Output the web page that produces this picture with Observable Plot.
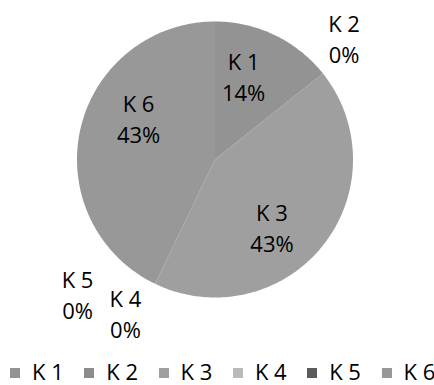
<!DOCTYPE html>
<html>
<head>
<meta charset="utf-8">
<script src="https://cdn.jsdelivr.net/npm/d3@7"></script>
<script src="https://cdn.jsdelivr.net/npm/@observablehq/plot@0.6"></script>
<style>
  body { margin: 0; background: #fff; font-family: "Open Sans", sans-serif; }
  #wrap { position: relative; width: 434px; height: 385px; overflow: hidden; }
  #chart { position: absolute; left: 0; top: 0; }
  .sw { position: absolute; width: 10px; height: 10px; top: 368px; }
  .lt { position: absolute; top: 359.5px; font-size: 22px; line-height: 22px; color: #000; white-space: pre; }
</style>
</head>
<body>
<div id="wrap"><div id="chart"></div><div id="legend"></div></div>
<script>
const categories = ["K 1", "K 2", "K 3", "K 4", "K 5", "K 6"];
const values = [1, 0, 3, 0, 0, 3];
const sliceColors = ["#939393", "#8c8c8c", "#9f9f9f", "#bababa", "#5c5c5c", "#989898"];
// label anchors in pie-radius units (layout only)
const labelPos = [[0.207, 0.609], [0.935, 0.880], [0.413, -0.486], [-0.649, -1.109], [-0.996, -0.971], [-0.554, 0.304]];

const total = d3.sum(values);
const arcs = d3.pie().sort(null).value(d => d)(values);
const fmt = d3.format(".0%");

const poly = [];
arcs.forEach((a, i) => {
  if (a.value <= 0) return;
  const cat = categories[i];
  poly.push({cat, x: 0, y: 0});
  const n = Math.max(2, Math.ceil((a.endAngle - a.startAngle) / (Math.PI / 180)));
  for (let k = 0; k <= n; k++) {
    const t = a.startAngle + (a.endAngle - a.startAngle) * k / n;
    poly.push({cat, x: Math.sin(t), y: Math.cos(t)});
  }
});

const labels = categories.map((c, i) => ({
  cat: c,
  text: `${c}\n${fmt(values[i] / total)}`,
  x: labelPos[i][0],
  y: labelPos[i][1]
}));

const chart = Plot.plot({
  width: 434,
  height: 345,
  margin: 0,
  x: {domain: [-1, 1], range: [76.5, 352.5], axis: null},
  y: {domain: [-1, 1], range: [297, 21], axis: null},
  color: {domain: categories, range: sliceColors},
  marks: [
    Plot.line(poly, {x: "x", y: "y", z: "cat", fill: "cat", stroke: null, curve: "linear-closed"}),
    Plot.text(labels, {x: "x", y: "y", text: "text", fontSize: 22, fontFamily: "Open Sans", fill: "#000", lineHeight: 1.41})
  ]
});
document.getElementById("chart").appendChild(chart);

const legend = document.getElementById("legend");
categories.forEach((c, i) => {
  const left = 10 + i * 74.3;
  const sw = document.createElement("div");
  sw.className = "sw";
  sw.style.left = left + "px";
  sw.style.background = sliceColors[i];
  legend.appendChild(sw);
  const t = document.createElement("div");
  t.className = "lt";
  t.style.left = (left + 22) + "px";
  t.textContent = c;
  legend.appendChild(t);
});
</script>
</body>
</html>
